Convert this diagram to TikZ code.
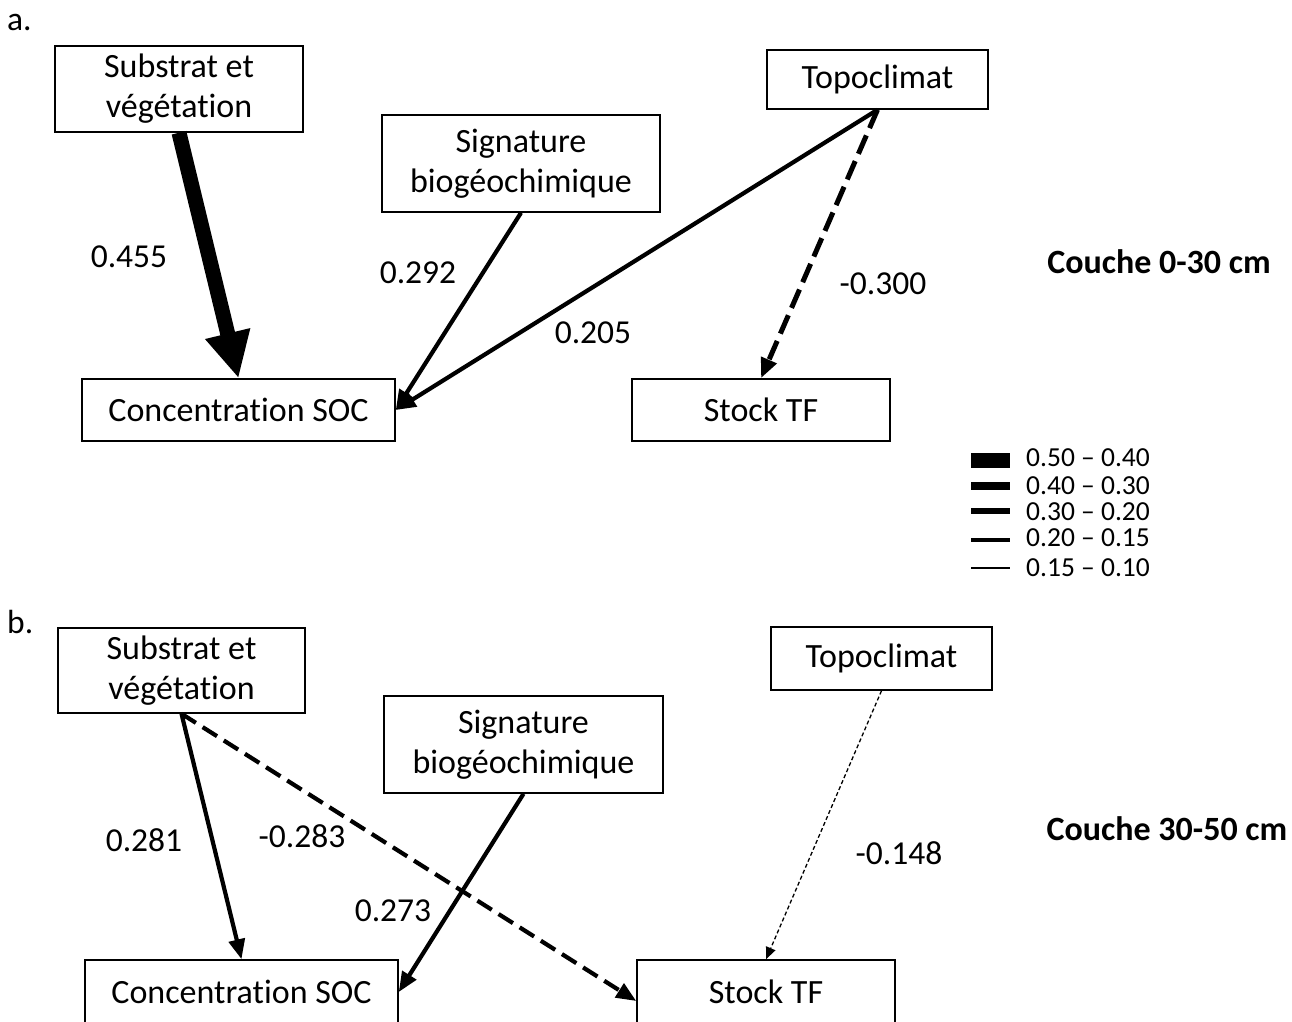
\documentclass[tikz,border=0pt]{standalone}
\usepackage{fontspec}
\setmainfont{Carlito}[Ligatures={TeX,NoCommon}]
\usetikzlibrary{arrows.meta}
\begin{document}
\begin{tikzpicture}[x=1pt,y=-1pt,
  box/.style={draw, line width=1.5pt, inner sep=0pt, align=center, font=\fontsize{34}{40}\selectfont},
  lbl/.style={inner sep=0pt, font=\fontsize{33.5}{36}\selectfont},
  ttl/.style={inner sep=0pt, font=\fontsize{34}{36}\selectfont\bfseries},
  leg/.style={inner sep=0pt, anchor=base west, font=\fontsize{27.5}{28}\selectfont},
  legline/.style={line width=#1},
  hugearr/.style={line width=15pt, -{Triangle[length=46pt,width=43pt]}},
  midarr/.style={line width=4.2pt, -{Triangle[length=20pt,width=16pt]}},
  thinarr/.style={line width=1.3pt, -{Triangle[length=12pt,width=10pt]}},
  dashA/.style={dash pattern=on 20pt off 8pt},
  dashB/.style={dash pattern=on 17pt off 8pt},
  dashC/.style={dash pattern=on 4pt off 2.5pt}
]
\clip (0,0) rectangle (1292,1021);
\fill[white] (0,0) rectangle (1292,1021);

% ---------- panel a ----------
\node[lbl, anchor=west] (pa) at (7,22) {a.};
\node[box, minimum width=248pt, minimum height=86pt] (subA) at (179,89) {Substrat et\\végétation};
\node[box, minimum width=278pt, minimum height=97pt] (sigA) at (521,163.5) {Signature\\biogéochimique};
\node[box, minimum width=221pt, minimum height=59pt] (topoA) at (877.5,79.5) {Topoclimat};
\node[box, minimum width=313pt, minimum height=62pt] (socA) at (238.5,410) {Concentration SOC};
\node[box, minimum width=258pt, minimum height=62pt] (stockA) at (761,410) {Stock TF};

\draw[hugearr] (subA.south) -- (socA.north);
\draw[midarr] (sigA.south) -- (socA.east);
\draw[midarr] (topoA.south) -- (socA.east);
\draw[midarr, line width=5pt, dashA] (topoA.south) -- (stockA.north);

\node[lbl] (l455) at (129,257) {0.455};
\node[lbl] (l292) at (418,273) {0.292};
\node[lbl] (l205) at (593,333) {0.205};
\node[lbl] (l300) at (883,284) {-0.300};
\node[ttl] (ca) at (1159,262) {Couche 0-30 cm};

% ---------- legend ----------
\coordinate (g1a) at (971,460); \coordinate (g1b) at (1010,460);
\coordinate (g2a) at (971,486); \coordinate (g2b) at (1010,486);
\coordinate (g3a) at (971,511); \coordinate (g3b) at (1010,511);
\coordinate (g4a) at (971,540); \coordinate (g4b) at (1010,540);
\coordinate (g5a) at (971,568); \coordinate (g5b) at (1010,568);
\draw[legline=15pt] (g1a) -- (g1b);
\draw[legline=8pt] (g2a) -- (g2b);
\draw[legline=6pt] (g3a) -- (g3b);
\draw[legline=3.5pt] (g4a) -- (g4b);
\draw[legline=2pt] (g5a) -- (g5b);
\node[leg] (t1) at (1026,466) {0.50 – 0.40};
\node[leg] (t2) at (1026,494) {0.40 – 0.30};
\node[leg] (t3) at (1026,520) {0.30 – 0.20};
\node[leg] (t4) at (1026,546) {0.20 – 0.15};
\node[leg] (t5) at (1026,576) {0.15 – 0.10};

% ---------- panel b ----------
\node[lbl, anchor=west] (pb) at (7,622) {b.};
\node[box, minimum width=247pt, minimum height=85pt] (subB) at (181.5,670.5) {Substrat et\\végétation};
\node[box, minimum width=279pt, minimum height=97pt] (sigB) at (523.5,744.5) {Signature\\biogéochimique};
\node[box, minimum width=221pt, minimum height=63pt] (topoB) at (881.5,658.5) {Topoclimat};
\node[box, minimum width=313pt, minimum height=64pt] (socB) at (241.5,992) {Concentration SOC};
\node[box, minimum width=258pt, minimum height=64pt] (stockB) at (766,992) {Stock TF};

\draw[midarr] (subB.south) -- (socB.north);
\draw[midarr, dashB] (subB.south) -- ([yshift=-9pt]stockB.west);
\draw[midarr] (sigB.south) -- (socB.east);
\draw[thinarr, dashC] (topoB.south) -- (stockB.north);

\node[lbl] (l281) at (144,840) {0.281};
\node[lbl] (l283) at (302,836) {-0.283};
\node[lbl] (l273) at (393,911) {0.273};
\node[lbl] (l148) at (899,853) {-0.148};
\node[ttl] (cb) at (1167,829) {Couche 30-50 cm};
\end{tikzpicture}
\end{document}
